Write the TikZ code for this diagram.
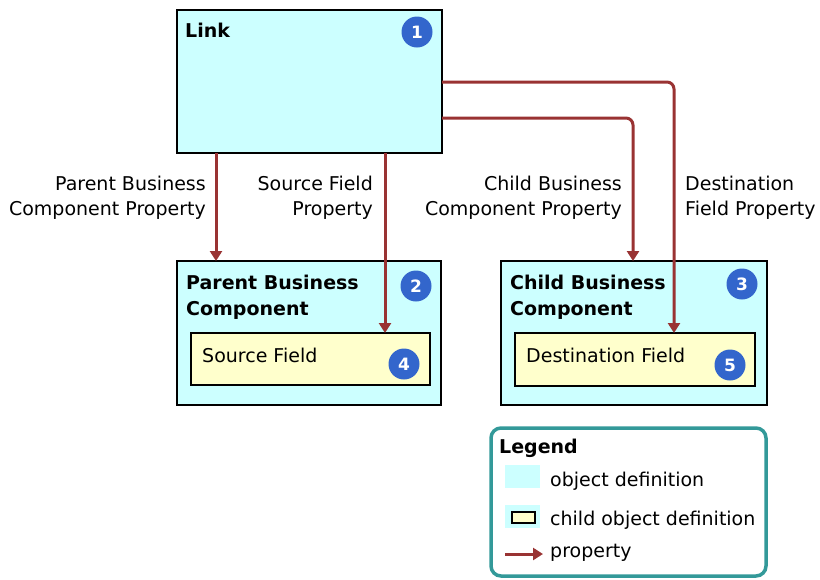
\documentclass[tikz,border=0pt]{standalone}
\usepackage{fontspec}
\setmainfont{DejaVu Sans}
\usetikzlibrary{arrows.meta}
\definecolor{objc}{HTML}{CCFFFF}
\definecolor{childc}{HTML}{FFFFCC}
\definecolor{propc}{HTML}{993333}
\definecolor{numc}{HTML}{3366CC}
\definecolor{legc}{HTML}{339999}
\tikzset{
  objbox/.style={draw=black, line width=2pt, fill=objc},
  childbox/.style={draw=black, line width=2pt, fill=childc},
  prop/.style={draw=propc, line width=3pt, rounded corners=7pt, -{Triangle[length=10pt,width=12pt]}},
  num/.style={circle, fill=numc, text=white, inner sep=0pt, minimum size=31pt, font=\fontsize{17}{17}\selectfont\bfseries},
  lbl/.style={font=\fontsize{19}{26}\selectfont, inner sep=0pt},
  ttl/.style={font=\fontsize{19}{26}\selectfont\bfseries, inner sep=0pt, anchor=base west}
}
\begin{document}
\begin{tikzpicture}[x=1pt,y=-1pt]
\useasboundingbox (0,0) rectangle (820,579);
% Link
\draw[objbox] (177,10) rectangle (442,153);
\node[ttl] (linkt) at (185,37) {Link};
\node[num] (n1) at (417,32) {1};
% Parent
\draw[objbox] (177,261) rectangle (441,405);
\node[ttl] (parta) at (186,289) {Parent Business};
\node[ttl] (partb) at (186,315) {Component};
\node[num] (n2) at (416,286) {2};
\draw[childbox] (191,333) rectangle (430,385);
\node[lbl, anchor=base west] (srct) at (202,362) {Source Field};
\node[num] (n4) at (404,364) {4};
% Child
\draw[objbox] (501,261) rectangle (767,405);
\node[ttl] (chita) at (510,289) {Child Business};
\node[ttl] (chitb) at (510,315) {Component};
\node[num] (n3) at (742,284) {3};
\draw[childbox] (515,333) rectangle (755,386);
\node[lbl, anchor=base west] (dstt) at (526,362) {Destination Field};
\node[num] (n5) at (730,365) {5};
% connector coordinates
\coordinate (a1s) at (216,153); \coordinate (a1e) at (216,261);
\coordinate (a2s) at (385,153); \coordinate (a2e) at (385,333);
\coordinate (a3s) at (442,118); \coordinate (a3m) at (633,118); \coordinate (a3e) at (633,261);
\coordinate (a4s) at (442,82);  \coordinate (a4m) at (674,82);  \coordinate (a4e) at (674,333);
\draw[prop] (a1s) -- (a1e);
\draw[prop] (a2s) -- (a2e);
\draw[prop] (a3s) -- (a3m) -- (a3e);
\draw[prop] (a4s) -- (a4m) -- (a4e);
% labels
\node[lbl, anchor=base east] (l1a) at (206,190) {Parent Business};
\node[lbl, anchor=base east] (l1b) at (206,215) {Component Property};
\node[lbl, anchor=base east] (l2a) at (373,190) {Source Field};
\node[lbl, anchor=base east] (l2b) at (373,215) {Property};
\node[lbl, anchor=base east] (l3a) at (622,190) {Child Business};
\node[lbl, anchor=base east] (l3b) at (622,215) {Component Property};
\node[lbl, anchor=base west] (l4a) at (685,190) {Destination};
\node[lbl, anchor=base west] (l4b) at (685,215) {Field Property};
% Legend
\draw[draw=legc, line width=3.5pt, rounded corners=10pt] (491,428) rectangle (766,576);
\node[ttl] (legt) at (499,453) {Legend};
\fill[objc] (505,465) rectangle (540,488);
\node[lbl, anchor=base west] (lg1) at (550,486) {object definition};
\fill[objc] (505,505) rectangle (540,528);
\draw[childbox, line width=1.5pt] (512,512) rectangle (535,523);
\node[lbl, anchor=base west] (lg2) at (550,525) {child object definition};
\coordinate (lgs) at (505,554); \coordinate (lge) at (543,554);
\draw[prop] (lgs) -- (lge);
\node[lbl, anchor=base west] (lg3) at (550,557) {property};
\end{tikzpicture}
\end{document}
